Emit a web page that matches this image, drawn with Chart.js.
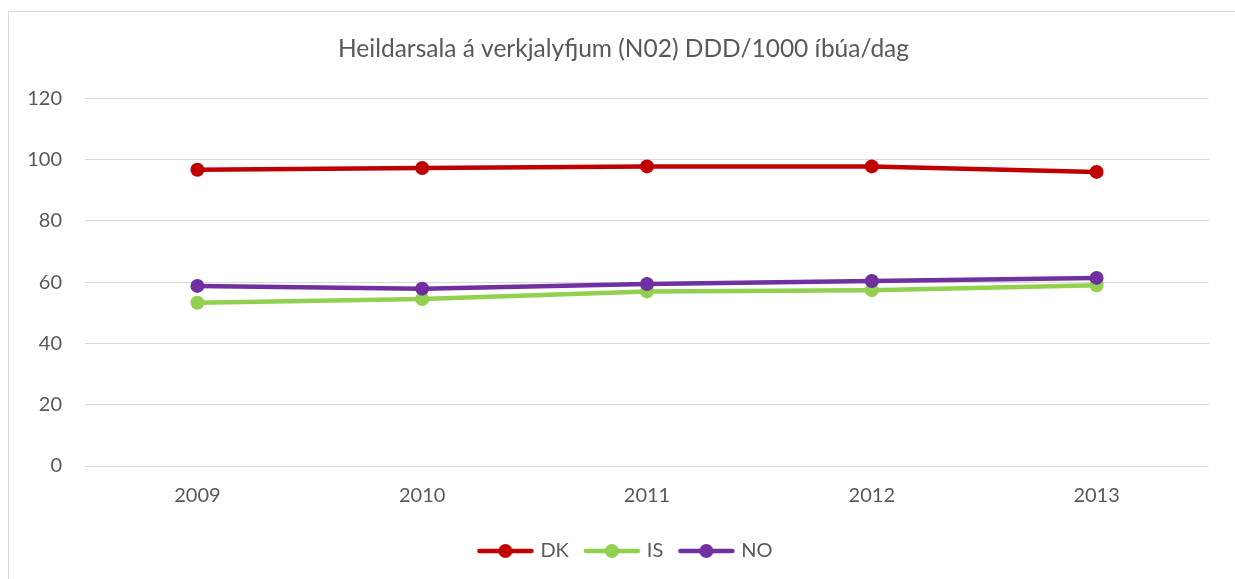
<!DOCTYPE html>
<html lang="is">
<head>
    <meta charset="UTF-8">
    <title>Heildarsala á verkjalyfjum (N02)</title>
    <script src="https://cdn.jsdelivr.net/npm/chart.js"></script>
    <style>
        html, body { margin: 0; padding: 0; background: #fff; overflow: hidden; }
        #frame { position: absolute; left: 8px; top: 11px; width: 1300px; height: 700px; border: 1px solid #d9d9d9; }
        #wrap { position: absolute; left: 0; top: 0; width: 1235px; height: 579px; }
    </style>
</head>
<body>
    <div id="frame"></div>
    <div id="wrap"><canvas id="salesChart"></canvas></div>

    <script>
        // Gögn lesin af myndinni
        const years = ['2009', '2010', '2011', '2012', '2013'];
        const dkValues = [96.7, 97.3, 97.8, 97.8, 96.0];
        const isValues = [53.3, 54.5, 57.0, 57.4, 59.0];
        const noValues = [58.8, 57.9, 59.4, 60.4, 61.4];
        const yTicks = [0, 20, 40, 60, 80, 100, 120];

        const textColor = '#595959';
        const gridColor = '#d9d9d9';

        // lína með hring fyrir skýringar
        function legendMarker(color) {
            const c = document.createElement('canvas');
            c.width = 58;
            c.height = 16;
            const g = c.getContext('2d');
            g.strokeStyle = color;
            g.lineWidth = 4.5;
            g.lineCap = 'round';
            g.beginPath();
            g.moveTo(3, 8);
            g.lineTo(55, 8);
            g.stroke();
            g.fillStyle = color;
            g.beginPath();
            g.arc(29, 8, 7, 0, Math.PI * 2);
            g.fill();
            return c;
        }

        function series(label, data, color, order) {
            return {
                label: label,
                data: data,
                borderColor: color,
                backgroundColor: color,
                borderWidth: 4.5,
                pointRadius: 7,
                pointHoverRadius: 7,
                pointBorderWidth: 0,
                tension: 0,
                order: order,
                pointStyle: 'circle',
                legendMarker: legendMarker(color)
            };
        }

        // titill og skýringar eru miðjuð á allan rammann, ekki teiknisvæðið
        const centerShift = {
            id: 'centerShift',
            afterLayout(chart) {
                if (chart.legend) {
                    chart.legend.left += 22;
                    chart.legend.right += 22;
                }
                if (chart.titleBlock) {
                    chart.titleBlock.left += 19;
                    chart.titleBlock.right += 19;
                }
            }
        };

        const ctx = document.getElementById('salesChart').getContext('2d');
        new Chart(ctx, {
            type: 'line',
            data: {
                labels: years,
                datasets: [
                    series('DK', dkValues, '#c00000', 0),
                    series('IS', isValues, '#92d050', 2),
                    series('NO', noValues, '#7030a0', 1)
                ]
            },
            plugins: [centerShift],
            options: {
                responsive: true,
                maintainAspectRatio: false,
                animation: false,
                layout: { padding: { left: 0, right: 26, top: 0, bottom: 8 } },
                plugins: {
                    tooltip: { enabled: false },
                    title: {
                        display: true,
                        text: 'Heildarsala á verkjalyfjum (N02) DDD/1000 íbúa/dag',
                        color: textColor,
                        font: { family: 'Lato', size: 24.5, weight: 'normal' },
                        padding: { top: 34, bottom: 35 }
                    },
                    legend: {
                        position: 'bottom',
                        labels: {
                            color: textColor,
                            font: { family: 'Lato', size: 20 },
                            usePointStyle: true,
                            pointStyleWidth: 50,
                            boxHeight: 16,
                            padding: 18,
                            generateLabels: function(chart) {
                                return chart.data.datasets.map((ds, i) => ({
                                    text: ds.label,
                                    fillStyle: ds.borderColor,
                                    strokeStyle: ds.borderColor,
                                    fontColor: textColor,
                                    lineWidth: 0,
                                    pointStyle: ds.legendMarker,
                                    hidden: false,
                                    datasetIndex: i
                                }));
                            }
                        }
                    }
                },
                scales: {
                    x: {
                        grid: { display: false, drawTicks: false },
                        border: { display: false },
                        offset: true,
                        ticks: {
                            color: textColor,
                            font: { family: 'Lato', size: 20 },
                            padding: 18,
                            maxRotation: 0
                        },
                        afterFit: function(scale) { scale.height = 57; }
                    },
                    y: {
                        min: 0,
                        max: 120,
                        afterBuildTicks: function(scale) {
                            scale.ticks = yTicks.map(v => ({ value: v }));
                        },
                        grid: { color: gridColor, lineWidth: 1, drawTicks: false },
                        border: { display: false },
                        ticks: {
                            color: textColor,
                            font: { family: 'Lato', size: 20 },
                            padding: 23
                        },
                        afterFit: function(scale) { scale.width = 85; }
                    }
                }
            }
        });
    </script>
</body>
</html>
